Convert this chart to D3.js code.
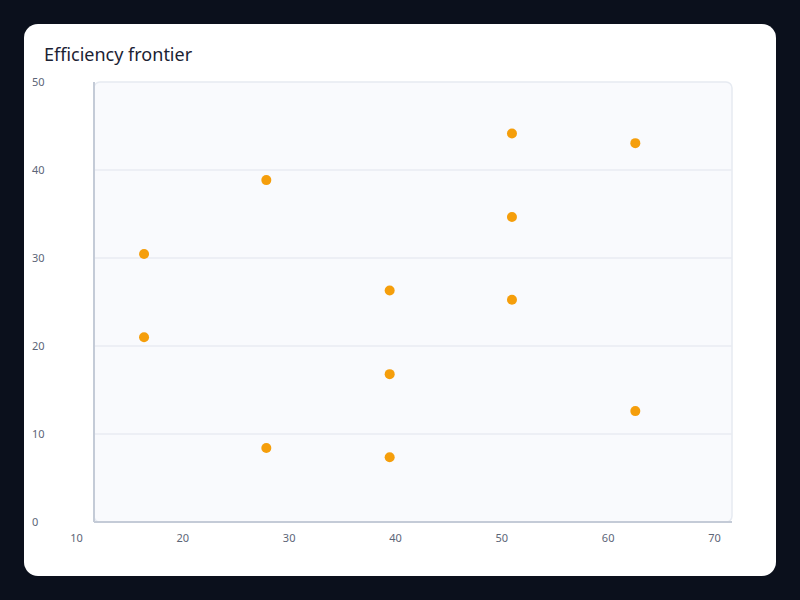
<!DOCTYPE html>
<html>
<head>
<meta charset="utf-8">
<script src="https://cdn.jsdelivr.net/npm/d3@7"></script>
<style>
  body { margin: 0; background: #0b101c; }
  svg { display: block; font-family: "Noto Sans", "Open Sans", sans-serif; }
</style>
</head>
<body>
<svg id="chart" width="800" height="600"></svg>
<script>
// Data
const xValues = [16.4, 16.4, 27.9, 27.9, 39.5, 39.5, 39.5, 51.0, 51.0, 51.0, 62.6, 62.6];
const yValues = [30.45, 21.0, 38.85, 8.4, 26.3, 16.8, 7.35, 44.15, 34.65, 25.25, 43.05, 12.6];
const xTicks = [10, 20, 30, 40, 50, 60, 70];
const yTicks = [0, 10, 20, 30, 40, 50];

const points = xValues.map((x, i) => ({ x, y: yValues[i] }));

const plot = { left: 94, right: 732, top: 82, bottom: 522 };

const svg = d3.select("#chart");

// Card
svg.append("rect")
    .attr("x", 24).attr("y", 24)
    .attr("width", 752).attr("height", 552)
    .attr("rx", 14)
    .attr("fill", "#ffffff");

svg.append("text")
    .attr("x", 44).attr("y", 61)
    .attr("font-size", 18)
    .attr("fill", "#1b2233")
    .text("Efficiency frontier");

// Scales (x labels sit 18px left of the plot frame in the reference)
const x = d3.scaleLinear()
    .domain([10, 70])
    .range([plot.left - 18, plot.right - 18]);

const y = d3.scaleLinear()
    .domain([0, 50])
    .range([plot.bottom, plot.top]);

// Plot background
svg.append("rect")
    .attr("x", plot.left).attr("y", plot.top)
    .attr("width", plot.right - plot.left)
    .attr("height", plot.bottom - plot.top)
    .attr("rx", 6)
    .attr("fill", "#f9fafd")
    .attr("stroke", "#e6eaf1")
    .attr("stroke-width", 1.5);

// Gridlines
svg.append("g")
    .selectAll("line")
    .data(yTicks.filter(d => d > 0 && d < 50))
    .enter().append("line")
    .attr("x1", plot.left).attr("x2", plot.right)
    .attr("y1", d => y(d)).attr("y2", d => y(d))
    .attr("stroke", "#e8ebf2")
    .attr("stroke-width", 1.5);

// Axis lines
svg.append("line")
    .attr("x1", plot.left).attr("x2", plot.left)
    .attr("y1", plot.top).attr("y2", plot.bottom)
    .attr("stroke", "#c4cbd7").attr("stroke-width", 2);
svg.append("line")
    .attr("x1", plot.left).attr("x2", plot.right)
    .attr("y1", plot.bottom).attr("y2", plot.bottom)
    .attr("stroke", "#c4cbd7").attr("stroke-width", 2);

// X axis labels
const xAxis = svg.append("g")
    .attr("transform", `translate(0,${plot.bottom})`)
    .call(d3.axisBottom(x).tickValues(xTicks).tickSize(0).tickPadding(12));
xAxis.select(".domain").remove();
xAxis.selectAll("text")
    .attr("font-family", "'Noto Sans', sans-serif")
    .attr("font-size", 11)
    .attr("fill", "#5c6577");

// Y axis labels (left aligned)
const yAxis = svg.append("g")
    .attr("transform", "translate(32,0)")
    .call(d3.axisLeft(y).tickValues(yTicks).tickSize(0).tickPadding(0));
yAxis.select(".domain").remove();
yAxis.selectAll("text")
    .attr("text-anchor", "start")
    .attr("x", 0)
    .attr("font-family", "'Noto Sans', sans-serif")
    .attr("font-size", 11)
    .attr("fill", "#5c6577");

// Points
svg.append("g")
    .selectAll("circle")
    .data(points)
    .enter().append("circle")
    .attr("cx", d => x(d.x))
    .attr("cy", d => y(d.y))
    .attr("r", 5)
    .attr("fill", "#f59e0b");
</script>
</body>
</html>
